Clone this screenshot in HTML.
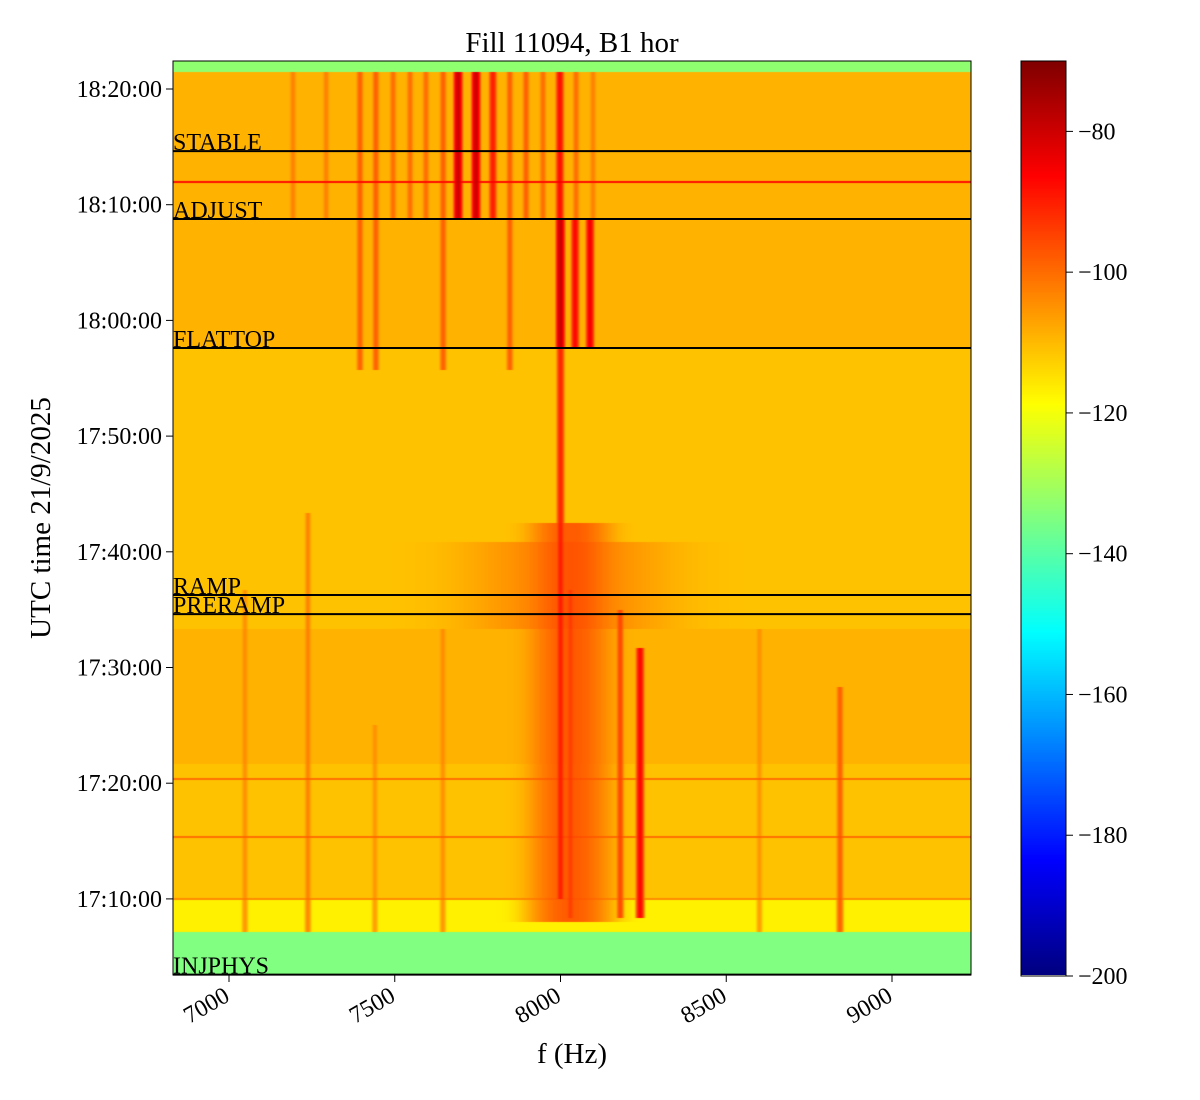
<!DOCTYPE html>
<html><head><meta charset="utf-8">
<style>
body{margin:0;background:#fff;width:1200px;height:1100px;overflow:hidden;position:relative;font-family:"Liberation Serif",serif;}
canvas{position:absolute;}
svg{position:absolute;left:0;top:0;}
</style></head>
<body>
<canvas id="heat" width="798" height="914" style="left:173px;top:61px"></canvas>
<canvas id="cbar" width="45" height="914" style="left:1021px;top:61px"></canvas>
<svg id="ov" width="1200" height="1100"></svg>
<script>
// ---- data (times in seconds after 17:00:00 UTC, freq in Hz, levels in dB) ----
const bandT0 = [205, 428, 594, 1300, 2000, 3457, 4888];
const bandT1 = [428, 594, 1300, 2000, 3457, 4888, 4945];
const bandLevel = [-135, -117, -111, -109, -111, -109, -133];

const lineFreq = [7193,7293,7395,7443,7495,7546,7594,7646,7691,7745,7796,7847,7896,7947,7998,8047,8098, 8000,8044,8089, 8000,8030,8180,8240,8843, 7048,7238,7645,7440,8600];
const lineT0   = [4126,4126,3343,3343,4126,4126,4126,3343,4126,4126,4126,3343,4126,4126,3457,4126,4126, 3457,3457,3457, 600,500,500,500,430, 430,430,430,430,430];
const lineT1   = [4888,4888,4888,4888,4888,4888,4888,4888,4888,4888,4888,4888,4888,4888,4888,4888,4888, 4126,4126,4126, 3457,2200,2100,1900,1700, 2200,2600,2000,1500,2000];
const lineLevel= [-104,-104,-99,-99,-101,-101,-101,-99,-80,-80,-90,-99,-99,-101,-88,-101,-104, -80,-87,-85, -91,-97,-96,-87,-99, -106,-104,-106,-107,-107];

const hlineT = [4318, 1222, 921, 600];
const hlineLevel = [-88, -101, -101, -105];

const humpFreq = [8030, 8020];
const humpSigma = [55, 160];
const humpT0 = [480, 2000];
const humpT1 = [2550, 2450];
const humpLevel = [-98, -104];

const eventNames = ["STABLE","ADJUST","FLATTOP","RAMP","PRERAMP","INJPHYS"];
const eventTimes = [4478, 4126, 3457, 2176, 2077, 207];

const xTicks = [7000, 7500, 8000, 8500, 9000];
const yTicks = [600, 1200, 1800, 2400, 3000, 3600, 4200, 4800];
const yTickLabels = ["17:10:00","17:20:00","17:30:00","17:40:00","17:50:00","18:00:00","18:10:00","18:20:00"];
const cTicks = [-80, -100, -120, -140, -160, -180, -200];
const cMin = -200, cMax = -70;

// ---- scales ----
const fx = f => 229 + (f - 7000) * 0.3315;
const ty = t => 89 + (4800 - t) * (115.7 / 600);
const xf = x => 7000 + (x - 229) / 0.3315;
const yt = y => 4800 - (y - 89) * (600 / 115.7);
const cy = v => 976 - (v - cMin) / (cMax - cMin) * 915;

function jet(x){
  x = Math.max(0, Math.min(1, x));
  const c = v => Math.round(255 * Math.max(0, Math.min(1, v)));
  return [c(1.5 - Math.abs(4*x - 3)), c(1.5 - Math.abs(4*x - 2)), c(1.5 - Math.abs(4*x - 1))];
}

// ---- heatmap ----
(function(){
  const cv = document.getElementById('heat'), ctx = cv.getContext('2d');
  const W = cv.width, H = cv.height, img = ctx.createImageData(W, H);
  for (let py = 0; py < H; py++) {
    const t = yt(61 + py + 0.5);
    let base = -130;
    for (let i = 0; i < bandT0.length; i++) if (t >= bandT0[i] && t < bandT1[i]) base = bandLevel[i];
    let rowP = Math.pow(10, base/10);
    for (let i = 0; i < hlineT.length; i++) if (Math.abs(t - hlineT[i]) < 4) rowP += Math.pow(10, hlineLevel[i]/10);
    const act = [];
    for (let i = 0; i < lineFreq.length; i++) if (t >= lineT0[i] && t <= lineT1[i]) act.push(i);
    const hact = [];
    for (let i = 0; i < humpFreq.length; i++) if (t >= humpT0[i] && t <= humpT1[i]) hact.push(i);
    for (let px = 0; px < W; px++) {
      const f = xf(173 + px + 0.5);
      let p = rowP;
      for (const i of act) { const d = (f - lineFreq[i]) / 4.5; if (d*d < 16) p += Math.pow(10, lineLevel[i]/10) * Math.exp(-0.5*d*d); }
      for (const i of hact) { const d = (f - humpFreq[i]) / humpSigma[i]; p += Math.pow(10, humpLevel[i]/10) * Math.exp(-0.5*d*d); }
      const v = 10 * Math.log10(p);
      const c = jet((v - cMin) / (cMax - cMin));
      const k = (py * W + px) * 4;
      img.data[k] = c[0]; img.data[k+1] = c[1]; img.data[k+2] = c[2]; img.data[k+3] = 255;
    }
  }
  ctx.putImageData(img, 0, 0);
})();

// ---- colorbar ----
(function(){
  const cv = document.getElementById('cbar'), ctx = cv.getContext('2d');
  for (let py = 0; py < cv.height; py++) {
    const c = jet(1 - py / (cv.height - 1));
    ctx.fillStyle = `rgb(${c[0]},${c[1]},${c[2]})`;
    ctx.fillRect(0, py, cv.width, 1);
  }
})();

// ---- overlay ----
const svg = document.getElementById('ov');
const NS = 'http://www.w3.org/2000/svg';
function el(tag, attrs, text){
  const e = document.createElementNS(NS, tag);
  for (const k in attrs) e.setAttribute(k, attrs[k]);
  if (text !== undefined) e.textContent = text;
  svg.appendChild(e);
  return e;
}
const SERIF = 'Liberation Serif, serif';
eventNames.forEach((n, i) => {
  const y = ty(eventTimes[i]);
  const l = el('line', {x1:173, x2:971, y1:y, y2:y, stroke:'#000', 'stroke-width':2});
  
  
  const tx = el('text', {x:173, y:y - 1, 'font-size':24, 'font-family':SERIF}, n);
  
  
});
const fr = el('rect', {x:173, y:61, width:798, height:914, fill:'none', stroke:'#000', 'stroke-width':1});


const cfr = el('rect', {x:1021, y:61, width:45, height:915, fill:'none', stroke:'#000', 'stroke-width':1});


xTicks.forEach(f => {
  const x = fx(f);
  const tk = el('line', {x1:x, x2:x, y1:975, y2:982, stroke:'#000', 'stroke-width':1});
  
  
  const t = el('text', {x:x + 2, y:1000, 'font-size':24, 'text-anchor':'end', transform:`rotate(-30 ${x + 2} 1000)`, 'font-family':SERIF}, String(f));
  
  
});
yTicks.forEach((tt, i) => {
  const y = ty(tt);
  const tk = el('line', {x1:166, x2:173, y1:y, y2:y, stroke:'#000', 'stroke-width':1});
  
  
  const t = el('text', {x:162, y:y + 8, 'font-size':24, 'text-anchor':'end', 'font-family':SERIF}, yTickLabels[i]);
  
  
});
cTicks.forEach(v => {
  const y = cy(v);
  const tk = el('line', {x1:1066, x2:1073, y1:y, y2:y, stroke:'#000', 'stroke-width':1});
  
  
  const t = el('text', {x:1078, y:y + 8, 'font-size':24, 'font-family':SERIF}, '\u2212' + Math.abs(v));
  
  
});
const ti = el('text', {x:572, y:52, 'font-size':29, 'text-anchor':'middle', 'font-family':SERIF}, 'Fill 11094, B1 hor');


const xl = el('text', {x:572, y:1063, 'font-size':29, 'text-anchor':'middle', 'font-family':SERIF}, 'f (Hz)');


const yl = el('text', {x:50, y:518, 'font-size':29, 'text-anchor':'middle', transform:'rotate(-90 50 518)', 'font-family':SERIF}, 'UTC time 21/9/2025');


</script>
</body></html>
